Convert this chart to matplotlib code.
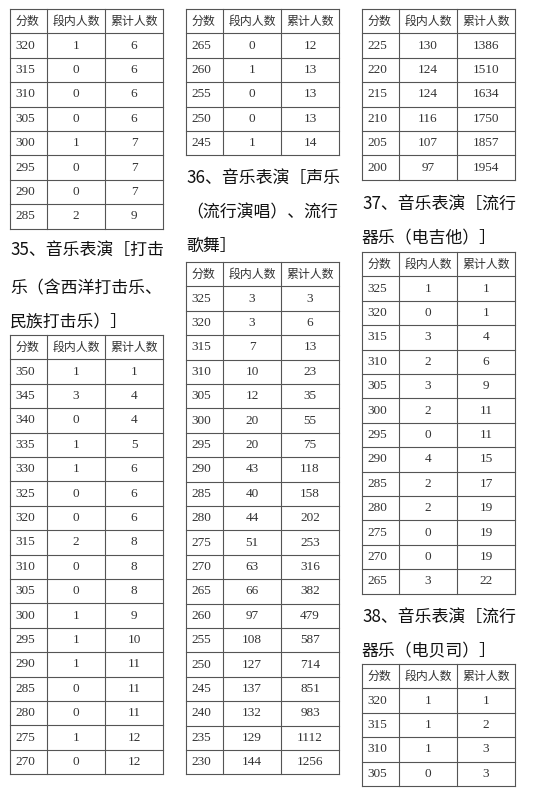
import matplotlib
matplotlib.use("Agg")
import matplotlib.pyplot as plt

header = ["分数", "段内人数", "累计人数"]

t34_score = [320, 315, 310, 305, 300, 295, 290, 285]
t34_in = [1, 0, 0, 0, 1, 0, 0, 2]
t34_cum = [6, 6, 6, 6, 7, 7, 7, 9]

t35_title = ["35、音乐表演［打击", "乐（含西洋打击乐、", "民族打击乐）］"]
t35_score = [350, 345, 340, 335, 330, 325, 320, 315, 310, 305, 300, 295, 290, 285, 280, 275, 270]
t35_in = [1, 3, 0, 1, 1, 0, 0, 2, 0, 0, 1, 1, 1, 0, 0, 1, 0]
t35_cum = [1, 4, 4, 5, 6, 6, 6, 8, 8, 8, 9, 10, 11, 11, 11, 12, 12]

t35b_score = [265, 260, 255, 250, 245]
t35b_in = [0, 1, 0, 0, 1]
t35b_cum = [12, 13, 13, 13, 14]

t36_title = ["36、音乐表演［声乐", "（流行演唱）、流行", "歌舞］"]
t36_score = [325, 320, 315, 310, 305, 300, 295, 290, 285, 280, 275, 270, 265, 260, 255, 250, 245, 240, 235, 230]
t36_in = [3, 3, 7, 10, 12, 20, 20, 43, 40, 44, 51, 63, 66, 97, 108, 127, 137, 132, 129, 144]
t36_cum = [3, 6, 13, 23, 35, 55, 75, 118, 158, 202, 253, 316, 382, 479, 587, 714, 851, 983, 1112, 1256]

t36b_score = [225, 220, 215, 210, 205, 200]
t36b_in = [130, 124, 124, 116, 107, 97]
t36b_cum = [1386, 1510, 1634, 1750, 1857, 1954]

t37_title = ["37、音乐表演［流行", "器乐（电吉他）］"]
t37_score = [325, 320, 315, 310, 305, 300, 295, 290, 285, 280, 275, 270, 265]
t37_in = [1, 0, 3, 2, 3, 2, 0, 4, 2, 2, 0, 0, 3]
t37_cum = [1, 1, 4, 6, 9, 11, 11, 15, 17, 19, 19, 19, 22]

t38_title = ["38、音乐表演［流行", "器乐（电贝司）］"]
t38_score = [320, 315, 310, 305]
t38_in = [1, 1, 1, 0]
t38_cum = [1, 2, 3, 3]

fig = plt.figure(figsize=(5.56, 7.92), dpi=100)
ax = fig.add_axes([0, 0, 1, 1])
ax.set_xlim(0, 556)
ax.set_ylim(792, 0)
ax.axis("off")

RH = 24.4
LC = "#555555"
TC = "#333333"
CJK = ["Noto Sans CJK SC", "DejaVu Sans"]
SERIF = ["Liberation Serif", "DejaVu Serif"]


def table(x0, y0, scores, ins, cums, with_header=True):
    x1, x2, x3 = x0 + 37, x0 + 95, x0 + 153
    rows = []
    if with_header:
        rows.append(header)
    rows += [[str(a), str(b), str(c)] for a, b, c in zip(scores, ins, cums)]
    n = len(rows)
    y_end = y0 + n * RH
    for i in range(n + 1):
        ax.plot([x0, x3], [y0 + i * RH] * 2, color=LC, lw=0.8)
    for x in (x0, x1, x2, x3):
        ax.plot([x, x], [y0, y_end], color=LC, lw=0.8)
    for i, r in enumerate(rows):
        yc = y0 + (i + 0.5) * RH
        hdr = with_header and i == 0
        fam = CJK if hdr else SERIF
        fs = 8.6 if hdr else 9.5
        ax.text(x0 + 5, yc, r[0], ha="left", va="center", fontsize=fs, family=fam, color=TC)
        ax.text((x1 + x2) / 2, yc, r[1], ha="center", va="center", fontsize=fs, family=fam, color=TC)
        ax.text((x2 + x3) / 2, yc, r[2], ha="center", va="center", fontsize=fs, family=fam, color=TC)


def title(x, ys, lines):
    for y, s in zip(ys, lines):
        ax.text(x, y, s, ha="left", va="center", fontsize=12.2, family=CJK,
                weight="medium", color="#111111")


table(10, 9, t34_score, t34_in, t34_cum)
title(10, [250, 288, 322], t35_title)
table(10, 335, t35_score, t35_in, t35_cum)

table(186, 9, t35b_score, t35b_in, t35b_cum)
title(186, [178, 212, 246], t36_title)
table(186, 262, t36_score, t36_in, t36_cum)

table(362, 9, t36b_score, t36b_in, t36b_cum)
title(362, [204, 238], t37_title)
table(362, 252, t37_score, t37_in, t37_cum)
title(362, [617, 651], t38_title)
table(362, 664, t38_score, t38_in, t38_cum)

fig.savefig("out.png", dpi=100, facecolor="white")
